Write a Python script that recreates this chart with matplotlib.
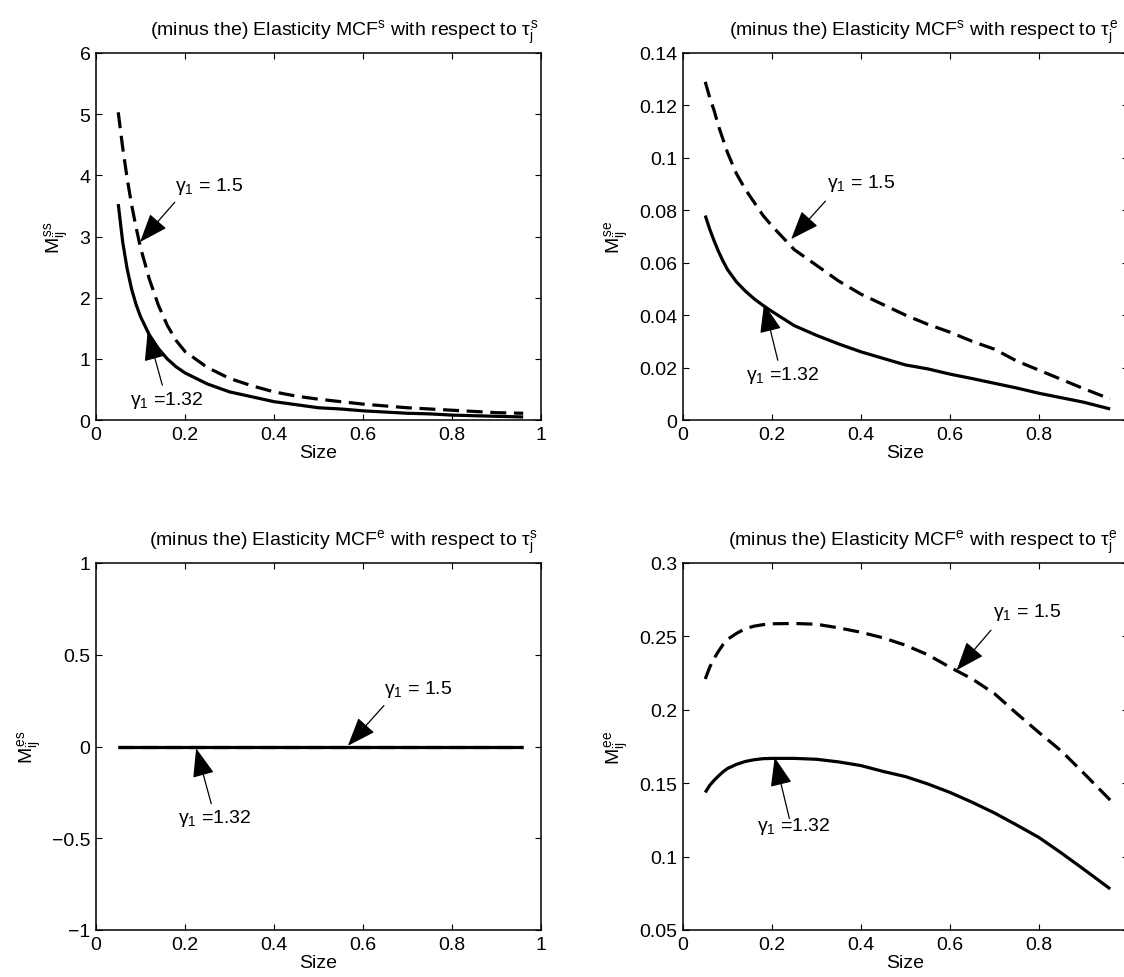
import matplotlib
matplotlib.use("Agg")
import matplotlib.pyplot as plt

plt.rcParams['font.family'] = ['Liberation Sans', 'DejaVu Sans']
plt.rcParams['mathtext.fontset'] = 'custom'
plt.rcParams['mathtext.rm'] = 'Liberation Sans'
plt.rcParams['mathtext.it'] = 'Liberation Sans'
plt.rcParams['mathtext.bf'] = 'Liberation Sans:bold'
plt.rcParams['axes.unicode_minus'] = True

# ---------------- data ----------------
size = [0.05, 0.06, 0.07, 0.08, 0.09, 0.10, 0.12, 0.14, 0.16, 0.18, 0.20,
        0.25, 0.30, 0.35, 0.40, 0.45, 0.50, 0.55, 0.60, 0.65, 0.70, 0.75,
        0.80, 0.85, 0.90, 0.96]

mss_132 = [3.53, 2.91, 2.47, 2.14, 1.89, 1.69, 1.39, 1.17, 1.00, 0.87, 0.77,
           0.59, 0.46, 0.38, 0.30, 0.25, 0.20, 0.18, 0.15, 0.13, 0.11, 0.10,
           0.08, 0.07, 0.06, 0.05]
mss_15 = [5.03, 4.45, 3.95, 3.52, 3.15, 2.82, 2.30, 1.88, 1.55, 1.30, 1.12,
          0.86, 0.68, 0.56, 0.46, 0.39, 0.34, 0.30, 0.26, 0.23, 0.20, 0.18,
          0.16, 0.14, 0.12, 0.11]

mse_132 = [0.078, 0.0728, 0.0683, 0.0642, 0.0606, 0.0574, 0.0527, 0.0492,
           0.0462, 0.0437, 0.0414, 0.036, 0.0323, 0.029, 0.026, 0.0235,
           0.021, 0.0195, 0.0175, 0.0158, 0.014, 0.0122, 0.0102, 0.0085,
           0.0068, 0.0042]
mse_15 = [0.129, 0.123, 0.118, 0.112, 0.107, 0.102, 0.094, 0.088, 0.083,
          0.078, 0.074, 0.065, 0.059, 0.053, 0.048, 0.044, 0.040, 0.0365,
          0.0335, 0.030, 0.027, 0.0225, 0.019, 0.0155, 0.012, 0.008]

mes_132 = [0.0] * 26
mes_15 = [0.0] * 26

mee_132 = [0.1437, 0.1485, 0.152, 0.155, 0.1578, 0.160, 0.1628, 0.1648,
           0.166, 0.1667, 0.1669, 0.1669, 0.1663, 0.1645, 0.162, 0.158,
           0.1545, 0.1495, 0.1437, 0.137, 0.1297, 0.1215, 0.113, 0.1025,
           0.0915, 0.078]
mee_15 = [0.221, 0.229, 0.235, 0.240, 0.2445, 0.248, 0.252, 0.2553, 0.257,
          0.258, 0.2586, 0.2588, 0.2583, 0.2558, 0.2528, 0.2490, 0.2440,
          0.2375, 0.2290, 0.2210, 0.2110, 0.1975, 0.1845, 0.1720, 0.1570,
          0.1385]

xticks = [0, 0.2, 0.4, 0.6, 0.8, 1.0]
xticklabels = ['0', '0.2', '0.4', '0.6', '0.8', '1']

panels = [
    dict(title=r"(minus the) Elasticity MCF$^{s}$ with respect to $\tau_j^s$",
         ylabel=r"$M_{ij}^{ss}$", s132=mss_132, s15=mss_15,
         ylim=(0, 6), yticks=[0, 1, 2, 3, 4, 5, 6],
         yticklabels=['0', '1', '2', '3', '4', '5', '6'],
         t15=(0.177, 3.83), a15=((0.177, 3.56), (0.099, 2.91)),
         t132=(0.076, 0.33), a132=((0.149, 0.57), (0.116, 1.44))),
    dict(title=r"(minus the) Elasticity MCF$^{s}$ with respect to $\tau_j^e$",
         ylabel=r"$M_{ij}^{se}$", s132=mse_132, s15=mse_15,
         ylim=(0, 0.14), yticks=[0, 0.02, 0.04, 0.06, 0.08, 0.10, 0.12, 0.14],
         yticklabels=['0', '0.02', '0.04', '0.06', '0.08', '0.1', '0.12', '0.14'],
         t15=(0.324, 0.0905), a15=((0.32, 0.0835), (0.243, 0.069)),
         t132=(0.142, 0.0173), a132=((0.213, 0.0228), (0.182, 0.0443))),
    dict(title=r"(minus the) Elasticity MCF$^{e}$ with respect to $\tau_j^s$",
         ylabel=r"$M_{ij}^{es}$", s132=mes_132, s15=mes_15,
         ylim=(-1, 1), yticks=[-1, -0.5, 0, 0.5, 1],
         yticklabels=['\u22121', '\u22120.5', '0', '0.5', '1'],
         t15=(0.647, 0.318), a15=((0.647, 0.223), (0.566, 0.004)),
         t132=(0.185, -0.385), a132=((0.259, -0.312), (0.225, -0.01))),
    dict(title=r"(minus the) Elasticity MCF$^{e}$ with respect to $\tau_j^e$",
         ylabel=r"$M_{ij}^{ee}$", s132=mee_132, s15=mee_15,
         ylim=(0.05, 0.3), yticks=[0.05, 0.1, 0.15, 0.2, 0.25, 0.3],
         yticklabels=['0.05', '0.1', '0.15', '0.2', '0.25', '0.3'],
         t15=(0.696, 0.2667), a15=((0.692, 0.2542), (0.615, 0.227)),
         t132=(0.166, 0.1215), a132=((0.239, 0.126), (0.206, 0.1675))),
]

W, H = 1124, 978
fig = plt.figure(figsize=(W / 100, H / 100), dpi=100)

# axes rectangles in pixels: left, top, width, height
rects = [(96, 54, 445, 367), (683, 54, 445, 367),
         (96, 564, 445, 367), (683, 564, 445, 367)]
title_x = [0.557, 0.54, 0.557, 0.54]

FS = 14
arrowprops = dict(arrowstyle='-|>,head_length=1.0,head_width=0.38',
                  color='black', lw=0.9, mutation_scale=18,
                  shrinkA=0, shrinkB=0)

for p, (l, t, w, h), tx in zip(panels, rects, title_x):
    ax = fig.add_axes([l / W, 1 - (t + h) / H, w / W, h / H])
    ax.plot(size, p['s132'], color='black', lw=2.3, solid_capstyle='butt')
    ax.plot(size, p['s15'], color='black', lw=2.3, dashes=(5, 2.4))
    ax.set_xlim(0, 1)
    ax.set_ylim(*p['ylim'])
    ax.set_xticks(xticks)
    ax.set_xticklabels(xticklabels)
    ax.set_yticks(p['yticks'])
    ax.set_yticklabels(p['yticklabels'])
    ax.tick_params(direction='in', top=True, right=True, length=4,
                   width=0.8, labelsize=FS, pad=4)
    for sp in ax.spines.values():
        sp.set_linewidth(1.1)
    ax.set_xlabel('Size', fontsize=FS, labelpad=1)
    ax.set_ylabel(p['ylabel'], fontsize=FS, labelpad=6)
    ax.text(tx, 1.02, p['title'], transform=ax.transAxes,
            ha='center', va='bottom', fontsize=FS)
    ax.annotate('', xy=p['a15'][1], xytext=p['a15'][0],
                arrowprops=arrowprops)
    ax.annotate('', xy=p['a132'][1], xytext=p['a132'][0],
                arrowprops=arrowprops)
    ax.text(p['t15'][0], p['t15'][1], r"$\gamma_1$ = 1.5", fontsize=FS,
            ha='left', va='center')
    ax.text(p['t132'][0], p['t132'][1], r"$\gamma_1$ =1.32", fontsize=FS,
            ha='left', va='center')

fig.savefig('out.png', dpi=100)
